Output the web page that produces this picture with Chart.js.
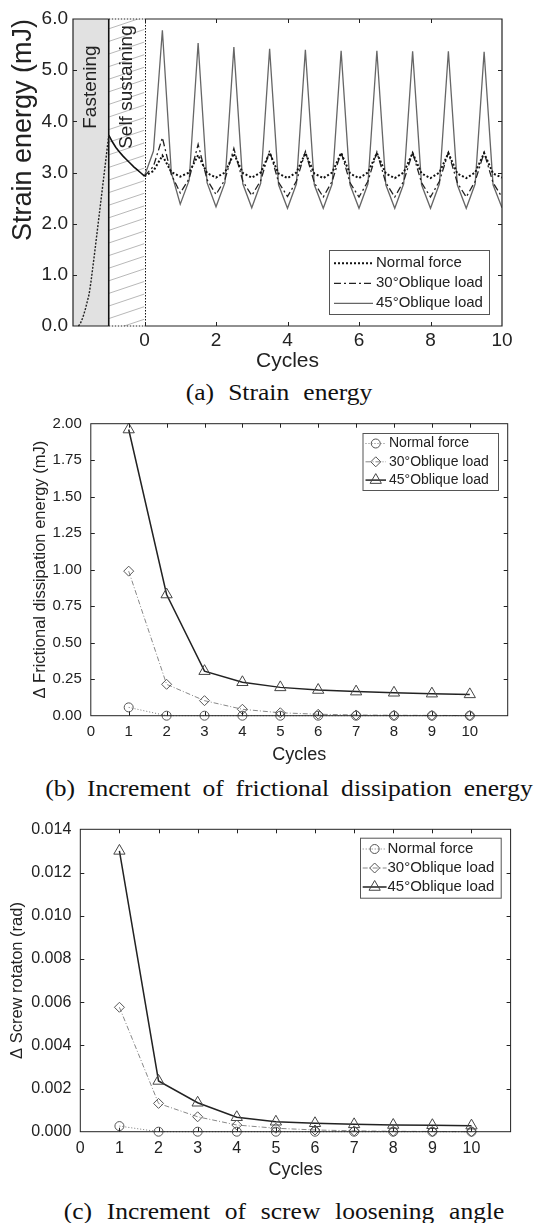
<!DOCTYPE html>
<html><head><meta charset="utf-8">
<script src="https://cdn.jsdelivr.net/npm/chart.js@4.4.1/dist/chart.umd.min.js"></script>
<style>
html,body{margin:0;padding:0;background:#fff;overflow:hidden;}
#page{position:relative;width:552px;height:1223px;overflow:hidden;}
canvas{position:absolute;left:0;}
.cap{position:absolute;width:552px;text-align:center;font-family:"Liberation Serif","Times New Roman",serif;font-size:23px;line-height:26px;word-spacing:6px;color:#111;white-space:nowrap;transform:scaleX(1.11);transform-origin:center;}
</style></head>
<body><div id="page">
<canvas id="chartA" width="552" height="376" style="top:0px"></canvas>
<div class="cap" style="top:380px;left:3px;word-spacing:7px">(a) Strain energy</div>
<canvas id="chartB" width="552" height="370" style="top:400px"></canvas>
<div class="cap" style="top:776px;left:13px;word-spacing:5px">(b) Increment of frictional dissipation energy</div>
<canvas id="chartC" width="552" height="375" style="top:810px"></canvas>
<div class="cap" style="top:1199px;left:8px;word-spacing:7.5px">(c) Increment of screw loosening angle</div>
</div>
<script>
const FONT = "'Liberation Sans', Arial, sans-serif";
const TXT = '#222';

// ---------- (a) Strain energy ----------
const seriesLabels = ['Normal force', '30°Oblique load', '45°Oblique load'];
const phaseLabels = ['Fastening', 'Self sustaining'];
const phaseBounds = [-2, -1, 0];
const fasteningX = [-1.85,-1.8,-1.75,-1.7,-1.65,-1.6,-1.55,-1.5,-1.4,-1.3,-1.2,-1.1,-1.0];
const fasteningY = [0,0.04,0.12,0.22,0.34,0.48,0.62,0.85,1.4,1.98,2.56,3.14,3.73];
const selfSustainX = [-1,-0.9,-0.8,-0.7,-0.6,-0.5,-0.4,-0.3,-0.2,-0.1,0];
const selfSustainY = [3.73,3.6,3.49,3.4,3.32,3.25,3.18,3.11,3.05,2.99,2.93];
const cycleX = [0,0.25,0.5,0.75,1,1.25,1.5,1.75,2,2.25,2.5,2.75,3,3.25,3.5,3.75,4,4.25,4.5,4.75,5,5.25,5.5,5.75,6,6.25,6.5,6.75,7,7.25,7.5,7.75,8,8.25,8.5,8.75,9,9.25,9.5,9.75,10];
const strainNormal = [2.93,3.03,3.33,3.01, 2.92,3.00,3.34,2.99, 2.90,3.00,3.37,2.99, 2.90,3.00,3.38,2.98, 2.89,3.00,3.38,2.98, 2.89,3.00,3.38,2.98, 2.89,3.00,3.38,2.98, 2.89,3.00,3.38,2.98, 2.89,3.00,3.38,2.98, 2.89,3.00,3.38,2.98, 2.90];
const strain30 = [2.93,3.12,3.68,2.96, 2.60,2.88,3.55,2.86, 2.57,2.86,3.47,2.83, 2.55,2.84,3.43,2.81, 2.53,2.83,3.41,2.80, 2.52,2.83,3.40,2.80, 2.52,2.83,3.40,2.80, 2.52,2.83,3.39,2.80, 2.52,2.83,3.39,2.80, 2.52,2.83,3.39,2.80, 2.52];
const strain45 = [2.93,3.42,5.78,3.00, 2.38,2.85,5.53,2.80, 2.33,2.80,5.45,2.78, 2.31,2.79,5.42,2.76, 2.30,2.78,5.40,2.76, 2.30,2.78,5.38,2.76, 2.30,2.78,5.38,2.76, 2.30,2.78,5.37,2.76, 2.30,2.78,5.37,2.76, 2.30,2.78,5.36,2.76, 2.31];
const strainXTicks = [0,2,4,6,8,10];
const strainYTicks = [0,1,2,3,4,5,6];

// ---------- (b) Frictional dissipation ----------
const cycles = [1,2,3,4,5,6,7,8,9,10];
const cycleTicks = [0,1,2,3,4,5,6,7,8,9,10];
const frictionNormal = [0.057,0,0,0,0,0,0,0,0,0];
const friction30 = [0.99,0.215,0.103,0.044,0.02,0.01,0.005,0.003,0.002,0.001];
const friction45 = [1.96,0.83,0.305,0.229,0.194,0.176,0.165,0.157,0.151,0.146];
const frictionYTicks = [0,0.25,0.5,0.75,1,1.25,1.5,1.75,2];

// ---------- (c) Screw rotation ----------
const rotationNormal = [0.00026,0,0,0,0,0,0,0,0,0];
const rotation30 = [0.00576,0.00131,0.00069,0.00031,0.00016,0.00008,0.00004,0.00002,0.00001,0];
const rotation45 = [0.0130,0.00235,0.00134,0.00067,0.00046,0.00039,0.00034,0.00031,0.0003,0.00028];
const rotationYTicks = [0,0.002,0.004,0.006,0.008,0.01,0.012,0.014];

const pts = (xs, ys) => xs.map((x, i) => ({x, y: ys[i]}));
const setTicks = list => s => { s.ticks = list.map(v => ({value: v})); };

// ---------- plugins ----------
const framePlugin = {
  id: 'frame',
  afterDatasetsDraw(chart, args, o) {
    const {ctx, chartArea: ca, scales} = chart;
    ctx.save();
    ctx.strokeStyle = o.color || '#222';
    ctx.lineWidth = 1;
    ctx.beginPath();
    scales.x.ticks.forEach(t => {
      const px = Math.round(scales.x.getPixelForValue(t.value)) + 0.5;
      if (px <= ca.left + 1 || px >= ca.right - 1) return;
      ctx.moveTo(px, ca.bottom); ctx.lineTo(px, ca.bottom - o.tick);
      ctx.moveTo(px, ca.top); ctx.lineTo(px, ca.top + o.tick);
    });
    scales.y.ticks.forEach(t => {
      const py = Math.round(scales.y.getPixelForValue(t.value)) + 0.5;
      if (py <= ca.top + 1 || py >= ca.bottom - 1) return;
      ctx.moveTo(ca.left, py); ctx.lineTo(ca.left + o.tick, py);
      ctx.moveTo(ca.right, py); ctx.lineTo(ca.right - o.tick, py);
    });
    ctx.stroke();
    ctx.lineWidth = o.width || 1;
    if (o.dotted) {
      const d0 = scales.x.getPixelForValue(o.dotted[0]);
      const d1 = scales.x.getPixelForValue(o.dotted[1]);
      ctx.beginPath();
      ctx.moveTo(d0, ca.top); ctx.lineTo(ca.left, ca.top); ctx.lineTo(ca.left, ca.bottom); ctx.lineTo(d0, ca.bottom);
      ctx.moveTo(d1, ca.top); ctx.lineTo(ca.right, ca.top); ctx.lineTo(ca.right, ca.bottom); ctx.lineTo(d1, ca.bottom);
      ctx.stroke();
      ctx.setLineDash([1.5, 1.5]);
      ctx.beginPath();
      ctx.moveTo(d0, ca.top); ctx.lineTo(d1, ca.top);
      ctx.moveTo(d0, ca.bottom); ctx.lineTo(d1, ca.bottom);
      ctx.stroke();
    } else {
      ctx.strokeRect(ca.left, ca.top, ca.width, ca.height);
    }
    ctx.restore();
  }
};

const legendPlugin = {
  id: 'boxLegend',
  afterDraw(chart, args, o) {
    const ctx = chart.ctx;
    ctx.save();
    ctx.fillStyle = '#fff';
    ctx.fillRect(o.left, o.top, o.width, o.height);
    ctx.strokeStyle = '#555';
    ctx.lineWidth = 1;
    ctx.strokeRect(o.left + 0.5, o.top + 0.5, o.width, o.height);
    o.items.forEach((di, k) => {
      const ds = chart.data.datasets[di];
      const y = o.top + o.firstRow + k * o.rowHeight;
      ctx.save();
      ctx.strokeStyle = ds.borderColor;
      ctx.lineWidth = ds.borderWidth;
      ctx.setLineDash(ds.borderDash || []);
      ctx.beginPath();
      ctx.moveTo(o.lineX1, y); ctx.lineTo(o.lineX2, y);
      ctx.stroke();
      if (ds.pointRadius > 0) {
        ctx.setLineDash([]);
        ctx.strokeStyle = ds.pointBorderColor;
        ctx.fillStyle = ds.pointBackgroundColor;
        ctx.lineWidth = ds.pointBorderWidth;
        Chart.helpers.drawPoint(ctx, {pointStyle: ds.pointStyle, radius: ds.pointRadius, rotation: 0, borderWidth: ds.pointBorderWidth}, (o.lineX1 + o.lineX2) / 2, y);
      }
      ctx.restore();
      ctx.fillStyle = TXT;
      ctx.font = o.fontSize + 'px ' + FONT;
      ctx.textBaseline = 'middle';
      ctx.textAlign = 'left';
      ctx.fillText(ds.label, o.textX, y);
    });
    ctx.restore();
  }
};

const phasePlugin = {
  id: 'phases',
  beforeDatasetsDraw(chart, args, o) {
    const {ctx, chartArea: ca, scales: {x, y}} = chart;
    const x0 = x.getPixelForValue(o.bounds[0]);
    const x1 = x.getPixelForValue(o.bounds[1]);
    const x2 = x.getPixelForValue(o.bounds[2]);
    ctx.save();
    ctx.fillStyle = '#e1e1e1';
    ctx.fillRect(x0, ca.top, x1 - x0, ca.height);
    ctx.beginPath();
    ctx.rect(x1, ca.top, x2 - x1, ca.height);
    ctx.clip();
    ctx.strokeStyle = '#b8b8b8';
    ctx.lineWidth = 1;
    ctx.beginPath();
    for (let yy = ca.top - 40; yy < ca.bottom + 40; yy += 12.6) {
      ctx.moveTo(x1, yy + 12); ctx.lineTo(x2, yy);
    }
    ctx.stroke();
    ctx.restore();
    ctx.save();
    ctx.strokeStyle = '#111';
    ctx.lineWidth = 1.6;
    ctx.beginPath(); ctx.moveTo(x1, ca.top); ctx.lineTo(x1, ca.bottom); ctx.stroke();
    ctx.lineWidth = 1;
    ctx.setLineDash([1.5, 1.5]);
    ctx.beginPath(); ctx.moveTo(Math.round(x2) + 0.5, ca.top); ctx.lineTo(Math.round(x2) + 0.5, ca.bottom); ctx.stroke();
    ctx.setLineDash([]);
    ctx.fillStyle = TXT;
    ctx.font = o.fontSize + 'px ' + FONT;
    ctx.textAlign = 'center';
    ctx.textBaseline = 'middle';
    const ly = y.getPixelForValue(o.labelY);
    [[(x0 + x1) / 2, o.labels[0]], [(x1 + x2) / 2, o.labels[1]]].forEach(([cx, t]) => {
      ctx.save();
      ctx.translate(cx, ly);
      ctx.rotate(-Math.PI / 2);
      ctx.fillText(t, 0, 0);
      ctx.restore();
    });
    ctx.restore();
  }
};

function axis(opts) {
  return Object.assign({
    type: 'linear',
    grid: {display: false, drawTicks: false},
    border: {display: false},
  }, opts);
}

const base = {
  responsive: false,
  animation: false,
  devicePixelRatio: 1,
  events: [],
};

// ---------- Chart (a) ----------
new Chart(document.getElementById('chartA'), {
  type: 'line',
  data: {
    datasets: [
      {label: phaseLabels[0], data: pts(fasteningX, fasteningY), borderColor: '#222', borderWidth: 1.4, borderDash: [2, 1.5], pointRadius: 0, clip: false},
      {label: phaseLabels[1], data: pts(selfSustainX, selfSustainY), borderColor: '#111', borderWidth: 1.6, pointRadius: 0},
      {label: seriesLabels[0], data: pts(cycleX, strainNormal), borderColor: '#111', borderWidth: 2, borderDash: [2, 2], pointRadius: 0},
      {label: seriesLabels[1], data: pts(cycleX, strain30), borderColor: '#222', borderWidth: 1.3, borderDash: [7, 3, 2, 3], pointRadius: 0},
      {label: seriesLabels[2], data: pts(cycleX, strain45), borderColor: '#666', borderWidth: 1.3, pointRadius: 0},
    ]
  },
  options: Object.assign({}, base, {
    layout: {padding: {top: 19, right: 50, left: 0, bottom: 0}},
    plugins: {
      legend: {display: false}, tooltip: {enabled: false},
      frame: {tick: 4, width: 1.2, dotted: [-1, 0]},
      phases: {bounds: phaseBounds, labels: phaseLabels, labelY: 4.67, fontSize: 19},
      boxLegend: {items: [2, 3, 4], left: 329, top: 250, width: 160, height: 64, firstRow: 13.3, rowHeight: 20, lineX1: 334, lineX2: 373, textX: 376, fontSize: 15},
    },
    scales: {
      x: axis({min: -2, max: 10,
        afterBuildTicks: setTicks(strainXTicks),
        afterFit: s => { s.height = 50; },
        ticks: {font: {family: FONT, size: 19}, color: TXT, padding: 3, maxRotation: 0, autoSkip: false},
        title: {display: true, text: 'Cycles', font: {family: FONT, size: 21}, color: TXT, padding: {top: 0, bottom: 2}}}),
      y: axis({min: 0, max: 6,
        afterBuildTicks: setTicks(strainYTicks),
        afterFit: s => { s.width = 73; },
        ticks: {font: {family: FONT, size: 19}, color: TXT, padding: 5, callback: v => v.toFixed(1)},
        title: {display: true, text: 'Strain energy (mJ)', align: 'end', font: {family: FONT, size: 27}, color: TXT, padding: {top: 7, bottom: 0}}}),
    }
  }),
  plugins: [phasePlugin, framePlugin, legendPlugin]
});

// ---------- marker series helper ----------
function markerSets(yN, y30, y45) {
  return [
    {label: seriesLabels[0], data: pts(cycles, yN), borderColor: '#777', borderWidth: 1, borderDash: [1, 2],
     pointStyle: 'circle', pointRadius: 4.5, pointBorderColor: '#555', pointBackgroundColor: 'rgba(0,0,0,0)', pointBorderWidth: 1, clip: false},
    {label: seriesLabels[1], data: pts(cycles, y30), borderColor: '#888', borderWidth: 1, borderDash: [5, 2, 1, 2],
     pointStyle: 'rectRot', pointRadius: 5, pointBorderColor: '#555', pointBackgroundColor: 'rgba(0,0,0,0)', pointBorderWidth: 1, clip: false},
    {label: seriesLabels[2], data: pts(cycles, y45), borderColor: '#222', borderWidth: 1.5,
     pointStyle: 'triangle', pointRadius: 6.5, pointBorderColor: '#444', pointBackgroundColor: 'rgba(0,0,0,0)', pointBorderWidth: 1, clip: false},
  ];
}

// ---------- Chart (b) ----------
new Chart(document.getElementById('chartB'), {
  type: 'line',
  data: {datasets: markerSets(frictionNormal, friction30, friction45)},
  options: Object.assign({}, base, {
    layout: {padding: {top: 23.7, right: 44.3, left: 0, bottom: 0}},
    plugins: {
      legend: {display: false}, tooltip: {enabled: false},
      frame: {tick: 4, width: 1},
      boxLegend: {items: [0, 1, 2], left: 362.5, top: 33, width: 135.5, height: 57, firstRow: 10.5, rowHeight: 18.3, lineX1: 365.5, lineX2: 386, textX: 389, fontSize: 14},
    },
    scales: {
      x: axis({min: 0, max: 11,
        afterBuildTicks: setTicks(cycleTicks),
        afterFit: s => { s.height = 54.3; },
        ticks: {font: {family: FONT, size: 15}, color: TXT, padding: 7, maxRotation: 0, autoSkip: false},
        title: {display: true, text: 'Cycles', font: {family: FONT, size: 18}, color: TXT, padding: {top: 0, bottom: 4}}}),
      y: axis({min: 0, max: 2,
        afterBuildTicks: setTicks(frictionYTicks),
        afterFit: s => { s.width = 90.8; },
        ticks: {font: {family: FONT, size: 15}, color: TXT, padding: 9, callback: v => v.toFixed(2)},
        title: {display: true, text: 'Δ Frictional dissipation energy (mJ)', font: {family: FONT, size: 16.5}, color: TXT, padding: {top: 31, bottom: 0}}}),
    }
  }),
  plugins: [framePlugin, legendPlugin]
});

// ---------- Chart (c) ----------
new Chart(document.getElementById('chartC'), {
  type: 'line',
  data: {datasets: markerSets(rotationNormal, rotation30, rotation45)},
  options: Object.assign({}, base, {
    layout: {padding: {top: 19.3, right: 41.4, left: 0, bottom: 0}},
    plugins: {
      legend: {display: false}, tooltip: {enabled: false},
      frame: {tick: 4, width: 1},
      boxLegend: {items: [0, 1, 2], left: 360, top: 27.7, width: 140.7, height: 60, firstRow: 11.3, rowHeight: 19, lineX1: 362.7, lineX2: 386.6, textX: 387.5, fontSize: 15},
    },
    scales: {
      x: axis({min: 0, max: 11,
        afterBuildTicks: setTicks(cycleTicks),
        afterFit: s => { s.height = 53.3; },
        ticks: {font: {family: FONT, size: 16}, color: TXT, padding: 7, maxRotation: 0, autoSkip: false},
        title: {display: true, text: 'Cycles', font: {family: FONT, size: 18}, color: TXT, padding: {top: 0, bottom: 4}}}),
      y: axis({min: 0, max: 0.014,
        afterBuildTicks: setTicks(rotationYTicks),
        afterFit: s => { s.width = 80.3; },
        ticks: {font: {family: FONT, size: 16}, color: TXT, padding: 9, callback: v => v.toFixed(3)},
        title: {display: true, text: 'Δ Screw rotaton (rad)', font: {family: FONT, size: 16.5}, color: TXT, padding: {top: 8, bottom: 0}}}),
    }
  }),
  plugins: [framePlugin, legendPlugin]
});
</script>
</body></html>
